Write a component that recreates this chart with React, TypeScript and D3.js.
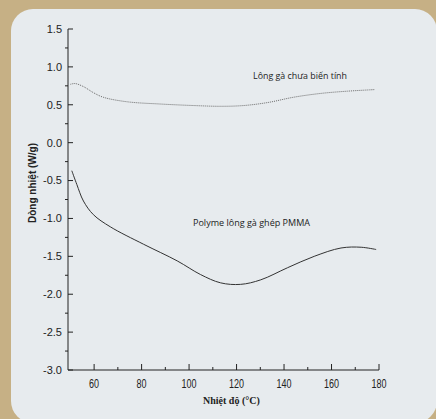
import { scaleLinear, line as d3_line, curveCatmullRom, range } from "d3";

// Heat flow curves (°C, W/g)
const rawTemps = [50, 52, 55.5, 59.7, 63.8, 73.8, 87.9, 101.9, 113.3, 123, 133.2, 144.1, 155.5, 166.9, 178];
const rawFlow = [0.77, 0.78, 0.74, 0.66, 0.6, 0.54, 0.51, 0.49, 0.48, 0.49, 0.53, 0.6, 0.65, 0.68, 0.7];

const pmmaTemps = [50.6, 52.7, 55.5, 59.7, 66.8, 80.8, 95, 104.8, 113.3, 121.7, 130.2, 141.5, 152.7, 164, 172.5, 178.8];
const pmmaFlow = [-0.37, -0.55, -0.77, -0.95, -1.11, -1.34, -1.56, -1.74, -1.85, -1.87, -1.81, -1.65, -1.5, -1.39, -1.38, -1.41];

const xTicks = [60, 80, 100, 120, 140, 160, 180];
const yTicks = [1.5, 1.0, 0.5, 0.0, -0.5, -1.0, -1.5, -2.0, -2.5, -3.0];

const W = 436;
const H = 419;

export default function App() {
  const x = scaleLinear().domain([49, 180]).range([68, 379]);
  const y = scaleLinear().domain([-3, 1.5]).range([370, 29]);

  const line = d3_line<[number, number]>()
    .x((d) => x(d[0]))
    .y((d) => y(d[1]))
    .curve(curveCatmullRom.alpha(0.5));

  const rawPath = line(rawTemps.map((t, i) => [t, rawFlow[i]]));
  const pmmaPath = line(pmmaTemps.map((t, i) => [t, pmmaFlow[i]]));

  const xMinor = range(70, 180, 20);
  const yMinor = range(-2.75, 1.5, 0.5);
  const x0 = x.range()[0];

  return (
    <svg
      width={W}
      height={H}
      style={{ position: "absolute", left: 0, top: 0 }}
      fontFamily="'Liberation Sans', Arial, sans-serif"
    >
      {/* scanned page background */}
      <rect width={W} height={H} fill="#c6b085" />
      <rect x={11} y={9} width={426} height={414} rx={22} fill="#e7ebee" />

      {/* axes */}
      <g stroke="#222" strokeWidth={1} fill="none">
        <line x1={x0} x2={x0} y1={y(1.5)} y2={y(-3)} />
        <line x1={x0} x2={x(180)} y1={y(-3)} y2={y(-3)} />
        {yTicks.map((t) => (
          <line key={t} x1={x0} x2={x0 + 5} y1={y(t)} y2={y(t)} />
        ))}
        {yMinor.map((t) => (
          <line key={t} x1={x0 - 3} x2={x0} y1={y(t)} y2={y(t)} />
        ))}
        {xTicks.map((t) => (
          <line key={t} x1={x(t)} x2={x(t)} y1={y(-3)} y2={y(-3) - 6} />
        ))}
        {xMinor.map((t) => (
          <line key={t} x1={x(t)} x2={x(t)} y1={y(-3)} y2={y(-3) - 3} />
        ))}
      </g>

      {/* tick labels */}
      <g fill="#222" fontSize={11} textAnchor="end">
        {yTicks.map((t) => (
          <text key={t} x={62} y={y(t)} dy="0.35em">
            {t.toFixed(1)}
          </text>
        ))}
      </g>
      <g fill="#222" fontSize={13.5} textAnchor="middle">
        {xTicks.map((t) => (
          <text
            key={t}
            x={x(t)}
            y={388}
            textLength={String(t).length * 5}
            lengthAdjust="spacingAndGlyphs"
          >
            {t}
          </text>
        ))}
      </g>

      {/* axis titles */}
      <text
        transform="translate(36,183) rotate(-90)"
        textAnchor="middle"
        fontSize={10}
        fontWeight="bold"
        fill="#222"
      >
        Dòng nhiệt (W/g)
      </text>
      <text
        x={203}
        y={404}
        fontFamily="'Liberation Serif', serif"
        fontSize={10}
        fontWeight="bold"
        fill="#222"
      >
        Nhiệt độ (°C)
      </text>

      {/* curves */}
      <path d={rawPath ?? ""} fill="none" stroke="#6a6a6a" strokeWidth={1} strokeDasharray="1,1" />
      <path d={pmmaPath ?? ""} fill="none" stroke="#333" strokeWidth={1} />

      {/* curve labels */}
      <g fill="#222" fontFamily="'Open Sans', sans-serif" fontSize={9}>
        <text x={253} y={79} textLength={94} lengthAdjust="spacingAndGlyphs">
          Lông gà chưa biến tính
        </text>
        <text x={193} y={226} textLength={117} lengthAdjust="spacingAndGlyphs">
          Polyme lông gà ghép PMMA
        </text>
      </g>
    </svg>
  );
}
